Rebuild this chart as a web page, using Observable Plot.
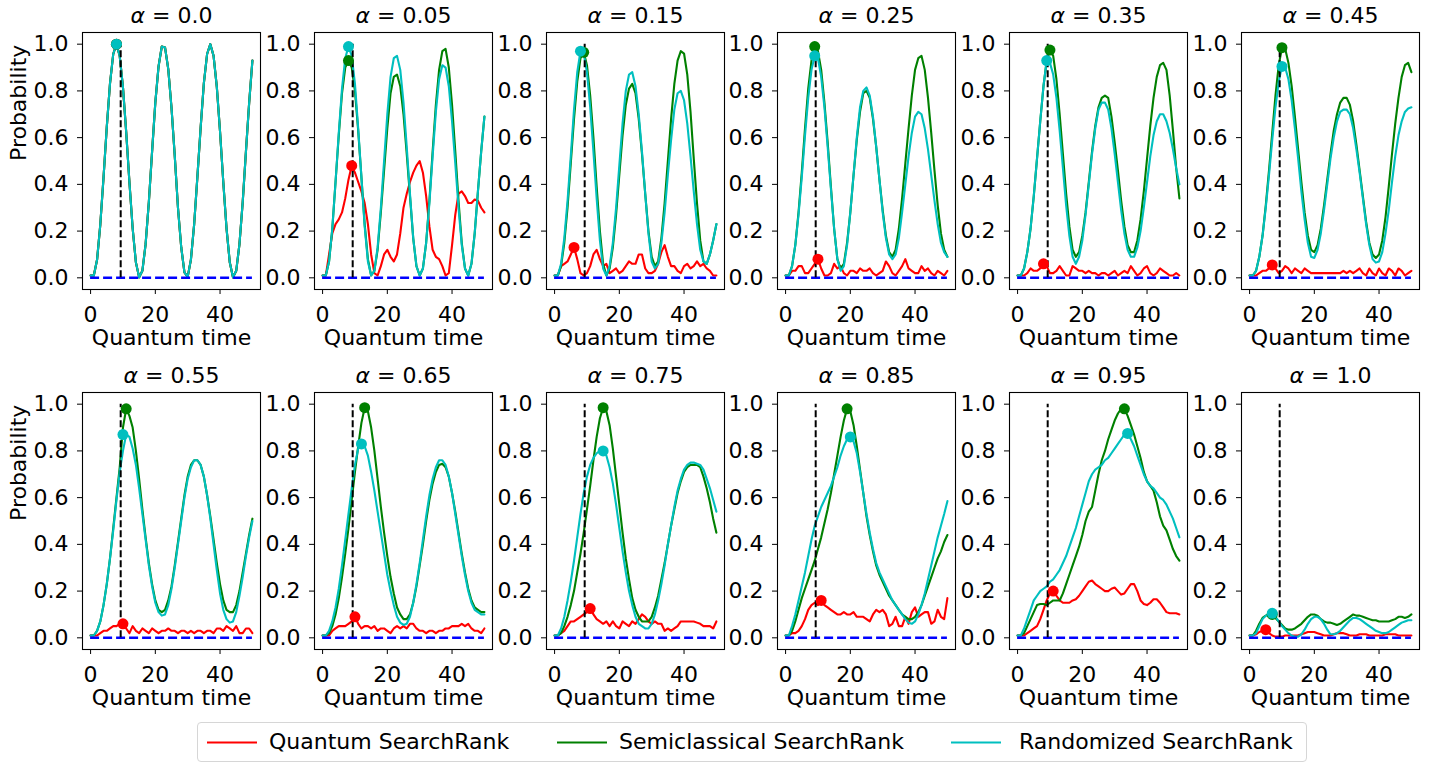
<!DOCTYPE html>
<html><head><meta charset="utf-8">
<script src="https://cdn.jsdelivr.net/npm/d3@7"></script>
<script src="https://cdn.jsdelivr.net/npm/@observablehq/plot@0.6"></script>
<style>
body{margin:0;background:#fff;}
#fig{position:relative;width:1446px;height:764px;overflow:hidden;font-family:"DejaVu Sans",sans-serif;background:#fff;}
#fig svg.panel{position:absolute;}
#legend{position:absolute;left:197px;top:722px;width:1110px;height:40px;box-sizing:border-box;border:1px solid #d6d6d6;border-radius:4px;background:#fff;}
#legend .item{position:absolute;top:0;height:38px;}
#legend .lbl{position:absolute;top:6px;font-size:22px;line-height:26px;white-space:nowrap;color:#000;font-weight:normal;}
</style></head><body><div id="fig"><div id="legend"></div></div>
<script>
// ---- data ----
const times = [0,1,2,3,4,5,6,7,8,9,10,11,12,13,14,15,16,17,18,19,20,21,22,23,24,25,26,27,28,29,30,31,32,33,34,35,36,37,38,39,40,41,42,43,44,45,46,47,48,49,50];
const alphas = ["0.0","0.05","0.15","0.25","0.35","0.45","0.55","0.65","0.75","0.85","0.95","1.0"];
const xTicks = [0,20,40];
const yTicks = [0,0.2,0.4,0.6,0.8,1.0];
const seriesNames = ["Quantum SearchRank","Semiclassical SearchRank","Randomized SearchRank"];
const targetTime = 9.3;

// alpha = 0.0
const q00 = [0.01,0.01,0.077,0.228,0.43,0.645,0.832,0.958,1.0,0.949,0.816,0.624,0.409,0.211,0.066,0.002,0.03,0.144,0.324,0.54,0.75,0.905,0.99,0.986,0.893,0.728,0.523,0.3,0.131,0.023,0.004,0.078,0.229,0.432,0.642,0.833,0.958,1.0,0.95,0.817,0.625,0.41,0.212,0.067,0.002,0.03,0.144,0.324,0.54,0.75,0.93];
const s00 = [0.01,0.01,0.077,0.228,0.43,0.645,0.832,0.958,1.0,0.949,0.816,0.624,0.409,0.211,0.066,0.002,0.03,0.144,0.324,0.54,0.75,0.905,0.99,0.986,0.893,0.728,0.523,0.3,0.131,0.023,0.004,0.078,0.229,0.432,0.642,0.833,0.958,1.0,0.95,0.817,0.625,0.41,0.212,0.067,0.002,0.03,0.144,0.324,0.54,0.75,0.93];
const c00 = [0.01,0.01,0.077,0.228,0.43,0.645,0.832,0.958,1.0,0.949,0.816,0.624,0.409,0.211,0.066,0.002,0.03,0.144,0.324,0.54,0.75,0.905,0.99,0.986,0.893,0.728,0.523,0.3,0.131,0.023,0.004,0.078,0.229,0.432,0.642,0.833,0.958,1.0,0.95,0.817,0.625,0.41,0.212,0.067,0.002,0.03,0.144,0.324,0.54,0.75,0.93];
// alpha = 0.05
const q05 = [0.01,0.01,0.10,0.19,0.23,0.25,0.28,0.34,0.42,0.48,0.45,0.41,0.37,0.32,0.23,0.10,0.02,0.01,0.05,0.10,0.12,0.09,0.07,0.10,0.19,0.30,0.36,0.41,0.45,0.48,0.50,0.45,0.35,0.22,0.12,0.09,0.08,0.05,0.01,0.02,0.14,0.27,0.36,0.37,0.35,0.32,0.32,0.335,0.33,0.30,0.28];
const s05 = [0.01,0.01,0.07,0.21,0.41,0.61,0.79,0.90,0.93,0.90,0.80,0.63,0.43,0.23,0.08,0.01,0.03,0.12,0.28,0.46,0.64,0.79,0.86,0.87,0.82,0.70,0.53,0.35,0.17,0.05,0.01,0.04,0.15,0.33,0.54,0.74,0.89,0.97,0.98,0.90,0.74,0.54,0.33,0.15,0.04,0.01,0.06,0.19,0.37,0.54,0.69];
const c05 = [0.01,0.01,0.07,0.21,0.41,0.62,0.81,0.94,0.99,0.95,0.83,0.64,0.43,0.22,0.07,0.01,0.03,0.13,0.30,0.50,0.70,0.86,0.94,0.95,0.89,0.75,0.56,0.36,0.17,0.05,0.01,0.04,0.15,0.32,0.52,0.71,0.85,0.91,0.90,0.82,0.67,0.49,0.30,0.14,0.04,0.01,0.06,0.19,0.37,0.54,0.69];
// alpha = 0.15
const q15 = [0.01,0.01,0.05,0.06,0.07,0.10,0.13,0.08,0.02,0.01,0.02,0.05,0.10,0.12,0.08,0.05,0.06,0.02,0.03,0.04,0.02,0.03,0.05,0.07,0.06,0.06,0.10,0.10,0.04,0.02,0.02,0.03,0.06,0.11,0.14,0.09,0.05,0.05,0.03,0.02,0.05,0.06,0.04,0.05,0.07,0.05,0.06,0.04,0.03,0.01,0.01];
const s15 = [0.01,0.01,0.05,0.15,0.30,0.49,0.68,0.84,0.94,0.965,0.91,0.78,0.60,0.39,0.20,0.06,0.01,0.04,0.13,0.27,0.44,0.61,0.74,0.81,0.83,0.79,0.68,0.53,0.36,0.20,0.09,0.05,0.07,0.17,0.32,0.50,0.68,0.83,0.93,0.97,0.96,0.87,0.71,0.51,0.32,0.16,0.07,0.06,0.10,0.16,0.23];
const c15 = [0.01,0.01,0.06,0.17,0.33,0.52,0.72,0.88,0.97,0.96,0.88,0.73,0.54,0.34,0.16,0.04,0.01,0.05,0.15,0.30,0.48,0.66,0.80,0.87,0.88,0.82,0.70,0.54,0.36,0.19,0.07,0.04,0.06,0.15,0.28,0.44,0.59,0.72,0.79,0.80,0.76,0.66,0.52,0.37,0.23,0.12,0.07,0.06,0.10,0.16,0.23];
// alpha = 0.25
const q25 = [0.01,0.01,0.03,0.03,0.05,0.05,0.02,0.02,0.04,0.06,0.08,0.04,0.01,0.01,0.02,0.06,0.04,0.05,0.02,0.01,0.03,0.03,0.02,0.04,0.03,0.03,0.04,0.02,0.01,0.02,0.03,0.07,0.05,0.02,0.01,0.03,0.05,0.08,0.04,0.03,0.02,0.02,0.05,0.03,0.04,0.02,0.01,0.03,0.02,0.01,0.03];
const s25 = [0.01,0.01,0.05,0.14,0.28,0.45,0.64,0.81,0.93,0.99,0.97,0.89,0.75,0.58,0.39,0.21,0.08,0.04,0.06,0.15,0.28,0.44,0.59,0.71,0.79,0.80,0.77,0.68,0.56,0.42,0.29,0.18,0.11,0.09,0.12,0.21,0.34,0.49,0.64,0.78,0.89,0.94,0.95,0.89,0.77,0.62,0.46,0.31,0.19,0.12,0.09];
const c25 = [0.01,0.01,0.05,0.14,0.27,0.43,0.61,0.77,0.89,0.95,0.94,0.86,0.73,0.56,0.38,0.21,0.08,0.03,0.05,0.14,0.28,0.44,0.60,0.73,0.80,0.815,0.78,0.69,0.56,0.42,0.28,0.17,0.10,0.08,0.10,0.17,0.28,0.40,0.52,0.62,0.69,0.71,0.70,0.64,0.55,0.44,0.33,0.23,0.15,0.11,0.09];
// alpha = 0.35
const q35 = [0.01,0.01,0.01,0.02,0.04,0.03,0.03,0.04,0.06,0.05,0.02,0.02,0.03,0.05,0.03,0.01,0.01,0.05,0.04,0.03,0.03,0.02,0.03,0.02,0.02,0.01,0.02,0.02,0.01,0.02,0.03,0.01,0.02,0.03,0.02,0.05,0.03,0.01,0.02,0.04,0.05,0.02,0.01,0.02,0.04,0.03,0.02,0.01,0.01,0.02,0.01];
const s35 = [0.01,0.01,0.04,0.11,0.21,0.35,0.51,0.67,0.82,0.93,0.975,0.95,0.85,0.70,0.53,0.36,0.22,0.12,0.09,0.11,0.18,0.28,0.41,0.54,0.65,0.73,0.77,0.78,0.77,0.69,0.58,0.46,0.33,0.22,0.14,0.11,0.11,0.16,0.25,0.37,0.51,0.65,0.77,0.86,0.91,0.92,0.89,0.78,0.63,0.47,0.34];
const c35 = [0.01,0.01,0.04,0.11,0.21,0.35,0.51,0.67,0.82,0.93,0.92,0.87,0.77,0.63,0.47,0.31,0.18,0.09,0.06,0.09,0.16,0.27,0.40,0.53,0.64,0.72,0.75,0.75,0.72,0.64,0.53,0.41,0.29,0.19,0.12,0.09,0.09,0.13,0.20,0.30,0.41,0.52,0.61,0.67,0.70,0.70,0.67,0.62,0.55,0.47,0.40];
// alpha = 0.45
const q45 = [0.01,0.01,0.01,0.02,0.03,0.03,0.04,0.055,0.04,0.02,0.03,0.05,0.04,0.02,0.04,0.03,0.02,0.04,0.03,0.02,0.02,0.02,0.02,0.02,0.02,0.02,0.02,0.02,0.02,0.03,0.02,0.03,0.02,0.03,0.04,0.02,0.01,0.04,0.02,0.01,0.04,0.02,0.01,0.04,0.03,0.01,0.04,0.03,0.01,0.02,0.03];
const s45 = [0.01,0.01,0.03,0.09,0.18,0.31,0.46,0.62,0.78,0.91,0.985,0.98,0.92,0.82,0.69,0.55,0.41,0.28,0.18,0.12,0.11,0.14,0.21,0.31,0.42,0.53,0.63,0.70,0.75,0.77,0.77,0.74,0.67,0.57,0.46,0.35,0.24,0.15,0.10,0.085,0.10,0.16,0.26,0.39,0.53,0.66,0.77,0.86,0.91,0.92,0.88];
const c45 = [0.01,0.01,0.03,0.09,0.18,0.30,0.44,0.59,0.73,0.84,0.905,0.90,0.85,0.76,0.64,0.51,0.37,0.25,0.15,0.09,0.085,0.12,0.19,0.29,0.40,0.51,0.60,0.67,0.71,0.72,0.72,0.70,0.64,0.55,0.45,0.34,0.23,0.14,0.08,0.065,0.07,0.11,0.19,0.29,0.41,0.52,0.61,0.67,0.71,0.725,0.73];
// alpha = 0.55
const q55 = [0.01,0.01,0.01,0.02,0.03,0.03,0.04,0.05,0.05,0.06,0.06,0.04,0.02,0.05,0.03,0.02,0.04,0.03,0.02,0.04,0.03,0.02,0.03,0.03,0.04,0.03,0.03,0.02,0.03,0.03,0.02,0.03,0.02,0.03,0.03,0.02,0.03,0.03,0.02,0.04,0.04,0.03,0.05,0.04,0.03,0.05,0.02,0.02,0.04,0.04,0.02];
const s55 = [0.01,0.01,0.03,0.07,0.14,0.23,0.34,0.47,0.60,0.73,0.90,0.98,0.95,0.90,0.80,0.68,0.55,0.43,0.32,0.23,0.16,0.12,0.11,0.12,0.16,0.22,0.31,0.41,0.51,0.61,0.69,0.74,0.76,0.76,0.74,0.69,0.61,0.52,0.42,0.32,0.23,0.16,0.12,0.11,0.11,0.14,0.20,0.28,0.36,0.44,0.51];
const c55 = [0.01,0.01,0.03,0.07,0.14,0.23,0.34,0.46,0.59,0.71,0.80,0.87,0.86,0.81,0.74,0.64,0.53,0.42,0.31,0.22,0.15,0.11,0.095,0.10,0.14,0.21,0.30,0.40,0.50,0.60,0.68,0.73,0.76,0.76,0.74,0.69,0.61,0.51,0.40,0.29,0.19,0.12,0.08,0.065,0.07,0.11,0.18,0.26,0.35,0.43,0.50];
// alpha = 0.65
const q65 = [0.01,0.01,0.01,0.03,0.04,0.05,0.05,0.05,0.06,0.07,0.09,0.06,0.04,0.05,0.05,0.04,0.05,0.03,0.04,0.04,0.03,0.02,0.04,0.05,0.04,0.05,0.04,0.06,0.06,0.04,0.03,0.03,0.02,0.03,0.03,0.02,0.03,0.03,0.04,0.04,0.05,0.05,0.05,0.06,0.05,0.06,0.04,0.03,0.03,0.02,0.04];
const s65 = [0.01,0.01,0.02,0.05,0.10,0.17,0.26,0.36,0.47,0.59,0.71,0.82,0.92,0.985,0.97,0.90,0.80,0.68,0.56,0.45,0.35,0.26,0.19,0.13,0.10,0.08,0.08,0.10,0.15,0.22,0.31,0.40,0.50,0.59,0.66,0.71,0.74,0.745,0.73,0.69,0.62,0.54,0.45,0.36,0.28,0.21,0.16,0.13,0.12,0.11,0.11];
const c65 = [0.01,0.01,0.03,0.07,0.13,0.21,0.31,0.42,0.53,0.64,0.74,0.81,0.83,0.82,0.78,0.71,0.63,0.54,0.45,0.36,0.27,0.20,0.14,0.09,0.065,0.055,0.06,0.09,0.15,0.23,0.32,0.42,0.52,0.61,0.68,0.73,0.76,0.76,0.74,0.69,0.62,0.53,0.44,0.35,0.27,0.20,0.15,0.12,0.11,0.10,0.10];
// alpha = 0.75
const q75 = [0.01,0.01,0.02,0.03,0.05,0.07,0.07,0.08,0.09,0.10,0.11,0.13,0.10,0.08,0.07,0.06,0.07,0.05,0.07,0.05,0.04,0.07,0.06,0.05,0.07,0.06,0.08,0.10,0.09,0.07,0.06,0.07,0.06,0.06,0.03,0.04,0.03,0.04,0.05,0.07,0.07,0.07,0.07,0.07,0.065,0.06,0.05,0.05,0.05,0.04,0.07];
const s75 = [0.01,0.01,0.02,0.05,0.09,0.14,0.20,0.28,0.36,0.45,0.55,0.65,0.76,0.86,0.94,0.985,0.97,0.91,0.81,0.69,0.57,0.45,0.34,0.25,0.17,0.12,0.09,0.07,0.07,0.07,0.09,0.13,0.18,0.25,0.32,0.40,0.48,0.55,0.62,0.67,0.71,0.73,0.74,0.74,0.74,0.73,0.69,0.64,0.58,0.51,0.45];
const c75 = [0.01,0.01,0.04,0.09,0.16,0.24,0.33,0.43,0.53,0.62,0.69,0.74,0.77,0.79,0.80,0.80,0.78,0.73,0.66,0.57,0.47,0.37,0.28,0.20,0.14,0.09,0.06,0.05,0.04,0.04,0.06,0.10,0.16,0.23,0.31,0.40,0.48,0.56,0.63,0.68,0.72,0.74,0.75,0.75,0.745,0.74,0.72,0.68,0.64,0.59,0.54];
// alpha = 0.85
const q85 = [0.01,0.01,0.02,0.02,0.03,0.05,0.08,0.12,0.14,0.15,0.14,0.16,0.14,0.13,0.12,0.11,0.10,0.10,0.11,0.10,0.10,0.11,0.09,0.09,0.09,0.08,0.07,0.10,0.12,0.11,0.12,0.10,0.05,0.06,0.09,0.05,0.05,0.09,0.06,0.11,0.13,0.09,0.10,0.11,0.11,0.06,0.07,0.12,0.09,0.08,0.17];
const s85 = [0.01,0.01,0.03,0.07,0.12,0.17,0.21,0.25,0.29,0.33,0.38,0.43,0.49,0.55,0.62,0.70,0.78,0.86,0.93,0.98,0.97,0.91,0.82,0.72,0.62,0.52,0.44,0.37,0.31,0.27,0.24,0.21,0.18,0.16,0.14,0.12,0.10,0.09,0.08,0.08,0.09,0.11,0.14,0.18,0.22,0.26,0.30,0.34,0.37,0.41,0.44];
const c85 = [0.01,0.01,0.05,0.10,0.16,0.22,0.28,0.35,0.42,0.48,0.52,0.56,0.59,0.62,0.65,0.69,0.73,0.78,0.82,0.85,0.86,0.84,0.79,0.71,0.62,0.53,0.45,0.38,0.32,0.28,0.25,0.22,0.19,0.16,0.14,0.12,0.10,0.08,0.065,0.06,0.07,0.10,0.14,0.19,0.25,0.31,0.37,0.43,0.48,0.53,0.585];
// alpha = 0.95
const q95 = [0.01,0.01,0.01,0.02,0.03,0.04,0.05,0.08,0.12,0.16,0.19,0.20,0.18,0.16,0.15,0.15,0.15,0.16,0.165,0.18,0.20,0.22,0.24,0.245,0.23,0.22,0.21,0.20,0.20,0.21,0.215,0.20,0.185,0.19,0.21,0.23,0.23,0.20,0.16,0.145,0.14,0.15,0.165,0.165,0.15,0.13,0.11,0.105,0.105,0.105,0.10];
const s95 = [0.01,0.01,0.02,0.05,0.08,0.11,0.14,0.145,0.145,0.14,0.15,0.16,0.16,0.16,0.19,0.23,0.27,0.31,0.35,0.39,0.44,0.50,0.54,0.56,0.63,0.70,0.76,0.80,0.85,0.89,0.93,0.96,0.98,0.98,0.95,0.91,0.87,0.82,0.77,0.71,0.67,0.65,0.63,0.58,0.52,0.48,0.46,0.42,0.38,0.35,0.33];
const c95 = [0.01,0.01,0.04,0.08,0.12,0.16,0.18,0.20,0.21,0.22,0.24,0.25,0.27,0.29,0.32,0.35,0.39,0.43,0.47,0.52,0.57,0.62,0.67,0.70,0.72,0.73,0.74,0.76,0.77,0.79,0.81,0.83,0.85,0.87,0.875,0.85,0.82,0.78,0.74,0.70,0.67,0.65,0.64,0.62,0.60,0.59,0.57,0.54,0.51,0.47,0.43];
// alpha = 1.0
const q100 = [0.01,0.01,0.015,0.025,0.03,0.035,0.02,0.01,0.005,0.005,0.005,0.01,0.01,0.01,0.01,0.01,0.015,0.02,0.025,0.025,0.025,0.02,0.015,0.01,0.01,0.01,0.015,0.02,0.02,0.02,0.015,0.01,0.01,0.01,0.015,0.015,0.015,0.01,0.01,0.01,0.01,0.01,0.015,0.015,0.015,0.015,0.01,0.01,0.01,0.01,0.01];
const s100 = [0.01,0.01,0.03,0.06,0.085,0.095,0.10,0.10,0.085,0.07,0.055,0.04,0.035,0.035,0.04,0.05,0.06,0.075,0.09,0.10,0.10,0.095,0.08,0.07,0.065,0.065,0.06,0.055,0.06,0.07,0.08,0.09,0.10,0.095,0.095,0.09,0.085,0.08,0.075,0.075,0.07,0.07,0.07,0.07,0.075,0.08,0.09,0.09,0.085,0.09,0.10];
const c100 = [0.01,0.01,0.02,0.05,0.08,0.095,0.10,0.105,0.09,0.07,0.05,0.035,0.02,0.01,0.005,0.005,0.015,0.035,0.06,0.08,0.09,0.09,0.08,0.06,0.035,0.015,0.015,0.02,0.03,0.045,0.06,0.075,0.085,0.085,0.08,0.07,0.06,0.05,0.04,0.03,0.025,0.02,0.02,0.025,0.035,0.045,0.055,0.065,0.07,0.075,0.075];

// peak markers [time, probability] per panel
const peakQuantum = [[8,1.0],[9,0.48],[6,0.13],[10,0.08],[8,0.06],[7,0.055],[10,0.06],[10,0.09],[11,0.125],[11,0.16],[11,0.20],[5,0.035]];
const peakSemi    = [[8,1.0],[8,0.93],[9,0.965],[9,0.99],[10,0.975],[10,0.985],[11,0.98],[13,0.985],[15,0.985],[19,0.98],[33,0.98],[7,0.10]];
const peakRand    = [[8,1.0],[8,0.99],[8,0.97],[9,0.95],[9,0.93],[10,0.905],[10,0.87],[12,0.83],[15,0.80],[20,0.86],[34,0.875],[7,0.105]];

const quantumSeries = [q00,q05,q15,q25,q35,q45,q55,q65,q75,q85,q95,q100];
const semiSeries    = [s00,s05,s15,s25,s35,s45,s55,s65,s75,s85,s95,s100];
const randSeries    = [c00,c05,c15,c25,c35,c45,c55,c65,c75,c85,c95,c100];

// ---- drawing ----
const RED = "#ff0000", GREEN = "#008000", CYAN = "#00bfbf", BLUE = "#0000ff";
const FONT = "DejaVu Sans";
const fig = document.getElementById("fig");
const ctx = document.createElement("canvas").getContext("2d");
function tw(s, style) { ctx.font = (style ? style + " " : "") + "22px '" + FONT + "'"; return ctx.measureText(s).width; }

const ML = 60, MR = 5, MT = 32, MB = 62;
const frameW = 178, frameH = 257;
const panelLeft = c => 81.7 + c * 231.9;
const rowTop = [31.7, 392.3];

alphas.forEach((a, i) => {
  const col = i % 6, row = Math.floor(i / 6);
  const toRows = arr => times.map((t, k) => ({t, v: arr[k]}));
  const wA = tw("α", "italic"), wS = tw(" "), wR = tw("= " + a);
  const total = wA + wS + wR;
  const marks = [
    Plot.frame({stroke: "#000", strokeWidth: 1.1}),
    Plot.line(toRows(quantumSeries[i]), {x: "t", y: "v", stroke: RED, strokeWidth: 2.1}),
    Plot.line(toRows(semiSeries[i]), {x: "t", y: "v", stroke: GREEN, strokeWidth: 2.1}),
    Plot.line(toRows(randSeries[i]), {x: "t", y: "v", stroke: CYAN, strokeWidth: 2.1}),
    Plot.ruleY([0], {x1: 0, x2: 50, stroke: BLUE, strokeWidth: 2.5, strokeDasharray: "9,4"}),
    Plot.ruleX([targetTime], {y1: 0, y2: 1, stroke: "#000", strokeWidth: 2, strokeDasharray: "7,3"}),
    Plot.dot([peakQuantum[i]], {x: d => d[0], y: d => d[1], r: 5.5, fill: RED, stroke: "none"}),
    Plot.dot([peakSemi[i]], {x: d => d[0], y: d => d[1], r: 5.5, fill: GREEN, stroke: "none"}),
    Plot.dot([peakRand[i]], {x: d => d[0], y: d => d[1], r: 5.5, fill: CYAN, stroke: "none"}),
    Plot.text(["α"], {frameAnchor: "top", dy: -10, dx: -total / 2, textAnchor: "start", lineAnchor: "bottom", fontStyle: "italic", fontWeight: "normal", fontSize: 22}),
    Plot.text(["= " + a], {frameAnchor: "top", dy: -10, dx: -total / 2 + wA + wS, textAnchor: "start", lineAnchor: "bottom", fontWeight: "normal", fontSize: 22}),
    Plot.text(["Quantum time"], {frameAnchor: "bottom", dy: 55, lineAnchor: "bottom", fontWeight: "normal", fontSize: 22})
  ];
  if (col === 0) {
    marks.push(Plot.text(["Probability"], {frameAnchor: "left", dx: -56.7, rotate: -90, lineAnchor: "bottom", fontWeight: "normal", fontSize: 22}));
  }
  const svg = Plot.plot({
    width: ML + frameW + MR,
    height: MT + frameH + MB,
    marginLeft: ML, marginRight: MR, marginTop: MT, marginBottom: MB,
    style: {fontFamily: FONT, fontSize: "22px", fontWeight: "normal", color: "#000", background: "transparent", overflow: "visible"},
    x: {domain: [-2.5, 52.5], ticks: xTicks, tickSize: 5, tickPadding: 12, label: null},
    y: {domain: [-0.05, 1.05], ticks: yTicks, tickFormat: d3.format(".1f"), tickSize: 5, tickPadding: 9, label: null},
    marks
  });
  svg.classList.add("panel");
  svg.style.left = (panelLeft(col) - ML) + "px";
  svg.style.top = (rowTop[row] - MT) + "px";
  fig.appendChild(svg);
});

// legend
const legend = document.getElementById("legend");
const legendColors = [RED, GREEN, CYAN];
const swatchX = [8, 358, 752];
const textGap = [63, 63, 69];
seriesNames.forEach((name, k) => {
  const item = document.createElement("div");
  item.className = "item";
  item.style.left = swatchX[k] + "px";
  item.innerHTML = `<svg width="52" height="38" style="position:absolute;left:0;top:0"><line x1="1" x2="51" y1="19.5" y2="19.5" stroke="${legendColors[k]}" stroke-width="2.1"/></svg><span class="lbl" style="left:${textGap[k]}px">${name}</span>`;
  legend.appendChild(item);
});
</script>
</body></html>
